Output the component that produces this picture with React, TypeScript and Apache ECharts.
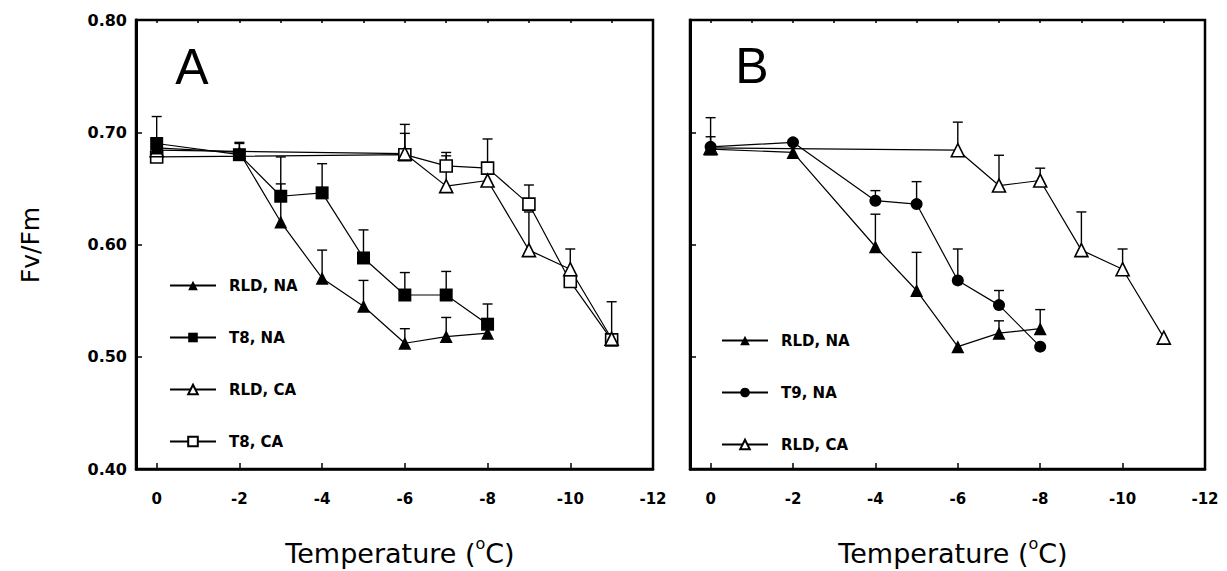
import React, { useEffect, useRef } from "react";
import * as echarts from "echarts";

// ---------- data ----------
const tempsNA_A = [0, -2, -3, -4, -5, -6, -7, -8];
const tempsCA = [0, -6, -7, -8, -9, -10, -11];
const tempsNA_B = [0, -2, -4, -5, -6, -7, -8];

// Panel A
const rldNA_A = [0.686, 0.682, 0.62, 0.57, 0.545, 0.512, 0.518, 0.521];
const rldNA_A_err = [0.009, 0.008, 0.034, 0.025, 0.023, 0.013, 0.017, 0];
const t8NA = [0.69, 0.68, 0.643, 0.646, 0.588, 0.555, 0.555, 0.529];
const t8NA_err = [0.024, 0.011, 0.035, 0.026, 0.025, 0.02, 0.021, 0.018];
const rldCA_A = [0.684, 0.681, 0.652, 0.657, 0.595, 0.578, 0.516];
const rldCA_A_err = [0, 0.026, 0.027, 0.011, 0.034, 0.018, 0];
const t8CA = [0.678, 0.68, 0.67, 0.668, 0.636, 0.567, 0.515];
const t8CA_err = [0, 0.019, 0.012, 0.026, 0.017, 0.008, 0.034];

// Panel B
const rldNA_B = [0.685, 0.682, 0.598, 0.559, 0.509, 0.521, 0.525];
const rldNA_B_err = [0.028, 0, 0.029, 0.034, 0, 0.011, 0.017];
const t9NA = [0.687, 0.691, 0.639, 0.636, 0.568, 0.546, 0.509];
const t9NA_err = [0.009, 0, 0.009, 0.02, 0.028, 0.013, 0];
const rldCA_B = [0.686, 0.684, 0.6525, 0.657, 0.595, 0.578, 0.517];
const rldCA_B_err = [0, 0.025, 0.027, 0.011, 0.034, 0.018, 0];

const yTicks = [0.4, 0.5, 0.6, 0.7, 0.8];
const xTicks = [0, -2, -4, -6, -8, -10, -12];

const FONT = "'DejaVu Sans', Verdana, sans-serif";

const pts = (xs: number[], ys: number[]) => xs.map((x, i) => [x, ys[i]]);
const errPts = (xs: number[], ys: number[], es: number[]) =>
  xs.map((x, i) => [x, ys[i], es[i]]);

type Style = { symbol: string; filled: boolean; size: number };
const styles: Record<string, Style> = {
  "RLD, NA": { symbol: "triangle", filled: true, size: 13 },
  "T8, NA": { symbol: "rect", filled: true, size: 13 },
  "RLD, CA": { symbol: "triangle", filled: false, size: 13 },
  "T8, CA": { symbol: "rect", filled: false, size: 12 },
  "T9, NA": { symbol: "circle", filled: true, size: 12 },
};

function lineSeries(name: string, data: number[][], xi: number, yi: number) {
  const s = styles[name];
  return {
    type: "line",
    name,
    data,
    xAxisIndex: xi,
    yAxisIndex: yi,
    symbol: s.symbol,
    symbolSize: s.size,
    z: 3,
    lineStyle: { color: "#000", width: 1.2 },
    itemStyle: s.filled
      ? { color: "#000", borderColor: "#000", borderWidth: 0 }
      : { color: "#fff", borderColor: "#000", borderWidth: 1.6 },
    emphasis: { disabled: true },
  };
}

function errSeries(data: number[][], xi: number, yi: number) {
  return {
    type: "custom",
    xAxisIndex: xi,
    yAxisIndex: yi,
    z: 2,
    data,
    renderItem: (params: any, api: any) => {
      const x = api.value(0);
      const y = api.value(1);
      const e = api.value(2);
      if (!e || e <= 0) return null;
      const p0 = api.coord([x, y]);
      const p1 = api.coord([x, y + e]);
      return {
        type: "group",
        children: [
          {
            type: "line",
            shape: { x1: p0[0], y1: p0[1], x2: p1[0], y2: p1[1] },
            style: { stroke: "#000", lineWidth: 1.4 },
          },
          {
            type: "line",
            shape: { x1: p1[0] - 5, y1: p1[1], x2: p1[0] + 5, y2: p1[1] },
            style: { stroke: "#000", lineWidth: 1.4 },
          },
        ],
      };
    },
  };
}

function xAxes(gridIndex: number) {
  const common = {
    type: "value",
    gridIndex,
    min: xTicks[xTicks.length - 1],
    max: 0.5,
    inverse: true,
    splitLine: { show: false },
  };
  return [
    {
      ...common,
      interval: 2,
      axisLine: { show: true, onZero: false, lineStyle: { color: "#000", width: 2.5 } },
      axisTick: { show: true, inside: true, length: 6, lineStyle: { color: "#000", width: 1.5 } },
      axisLabel: {
        show: true,
        margin: 22,
        color: "#000",
        fontFamily: FONT,
        fontWeight: "bold",
        fontSize: 15,
        formatter: (v: number) => (xTicks.indexOf(v) >= 0 ? String(v) : ""),
      },
    },
    {
      ...common,
      interval: 1,
      axisLine: { show: false, onZero: false },
      axisTick: { show: true, inside: true, length: 3, lineStyle: { color: "#000", width: 1.5 } },
      axisLabel: { show: false },
    },
  ];
}

function yAxis(gridIndex: number, labels: boolean) {
  return {
    type: "value",
    gridIndex,
    min: yTicks[0],
    max: yTicks[yTicks.length - 1],
    interval: 0.1,
    splitLine: { show: false },
    axisLine: { show: true, onZero: false, lineStyle: { color: "#000", width: 3 } },
    axisTick: { show: true, inside: true, length: 6, lineStyle: { color: "#000", width: 1.5 } },
    axisLabel: {
      show: labels,
      margin: 9,
      color: "#000",
      fontFamily: FONT,
      fontWeight: "bold",
      fontSize: 16,
      formatter: (v: number) => v.toFixed(2),
    },
  };
}

function legendCfg(names: string[], left: number, top: number) {
  return {
    orient: "vertical",
    left,
    top,
    itemGap: 37,
    itemWidth: 46,
    itemHeight: 12,
    selectedMode: false,
    data: names,
    textStyle: { color: "#000", fontFamily: FONT, fontWeight: "bold", fontSize: 15, padding: [0, 0, 0, 8] },
  };
}

const tempRich = {
  n: { fontFamily: FONT, fontSize: 27, color: "#000", lineHeight: 36 },
  s: { fontFamily: FONT, fontSize: 16, color: "#000", lineHeight: 16, verticalAlign: "top" },
};

export default function App() {
  const ref = useRef<HTMLDivElement>(null);
  useEffect(() => {
    if (!ref.current) return;
    const chart = echarts.init(ref.current, undefined, { renderer: "svg" });
    const option: any = {
      animation: false,
      backgroundColor: "#fff",
      grid: [
        { left: 136, top: 20, width: 517, height: 449, show: true, borderColor: "#000", borderWidth: 2.5, backgroundColor: "transparent" },
        { left: 690, top: 20, width: 515, height: 449, show: true, borderColor: "#000", borderWidth: 2.5, backgroundColor: "transparent" },
      ],
      xAxis: [...xAxes(0), ...xAxes(1)],
      yAxis: [yAxis(0, true), yAxis(1, false)],
      legend: [
        legendCfg(["RLD, NA", "T8, NA", "RLD, CA", "T8, CA"], 164, 273),
        legendCfg(["RLD, NA", "T9, NA", "RLD, CA"], 716, 328),
      ],
      graphic: [
        { type: "text", x: 192, y: 67, style: { text: "A", fontFamily: "'Liberation Sans', Arial, sans-serif", fontSize: 50, fill: "#000", align: "center", verticalAlign: "middle" } },
        { type: "text", x: 752, y: 66, style: { text: "B", fontFamily: "'Liberation Sans', Arial, sans-serif", fontSize: 50, fill: "#000", align: "center", verticalAlign: "middle" } },
        { type: "text", x: 30, y: 245, rotation: Math.PI / 2, style: { text: "Fv/Fm", fontFamily: FONT, fontSize: 25, fill: "#000", align: "center", verticalAlign: "middle" } },
        { type: "text", x: 400, y: 553, style: { text: "{n|Temperature (}{s|o}{n|C)}", rich: tempRich, align: "center", verticalAlign: "middle" } },
        { type: "text", x: 953, y: 553, style: { text: "{n|Temperature (}{s|o}{n|C)}", rich: tempRich, align: "center", verticalAlign: "middle" } },
      ],
      series: [
        errSeries(errPts(tempsNA_A, rldNA_A, rldNA_A_err), 0, 0),
        errSeries(errPts(tempsNA_A, t8NA, t8NA_err), 0, 0),
        errSeries(errPts(tempsCA, rldCA_A, rldCA_A_err), 0, 0),
        errSeries(errPts(tempsCA, t8CA, t8CA_err), 0, 0),
        lineSeries("T8, CA", pts(tempsCA, t8CA), 0, 0),
        lineSeries("RLD, CA", pts(tempsCA, rldCA_A), 0, 0),
        lineSeries("RLD, NA", pts(tempsNA_A, rldNA_A), 0, 0),
        lineSeries("T8, NA", pts(tempsNA_A, t8NA), 0, 0),

        errSeries(errPts(tempsNA_B, rldNA_B, rldNA_B_err), 2, 1),
        errSeries(errPts(tempsNA_B, t9NA, t9NA_err), 2, 1),
        errSeries(errPts(tempsCA, rldCA_B, rldCA_B_err), 2, 1),
        lineSeries("RLD, CA", pts(tempsCA, rldCA_B), 2, 1),
        lineSeries("RLD, NA", pts(tempsNA_B, rldNA_B), 2, 1),
        lineSeries("T9, NA", pts(tempsNA_B, t9NA), 2, 1),
      ],
    };
    chart.setOption(option);
    return () => chart.dispose();
  }, []);
  return (
    <div
      ref={ref}
      style={{ position: "absolute", left: 0, top: 0, width: 1227, height: 571, background: "#fff" }}
    />
  );
}
